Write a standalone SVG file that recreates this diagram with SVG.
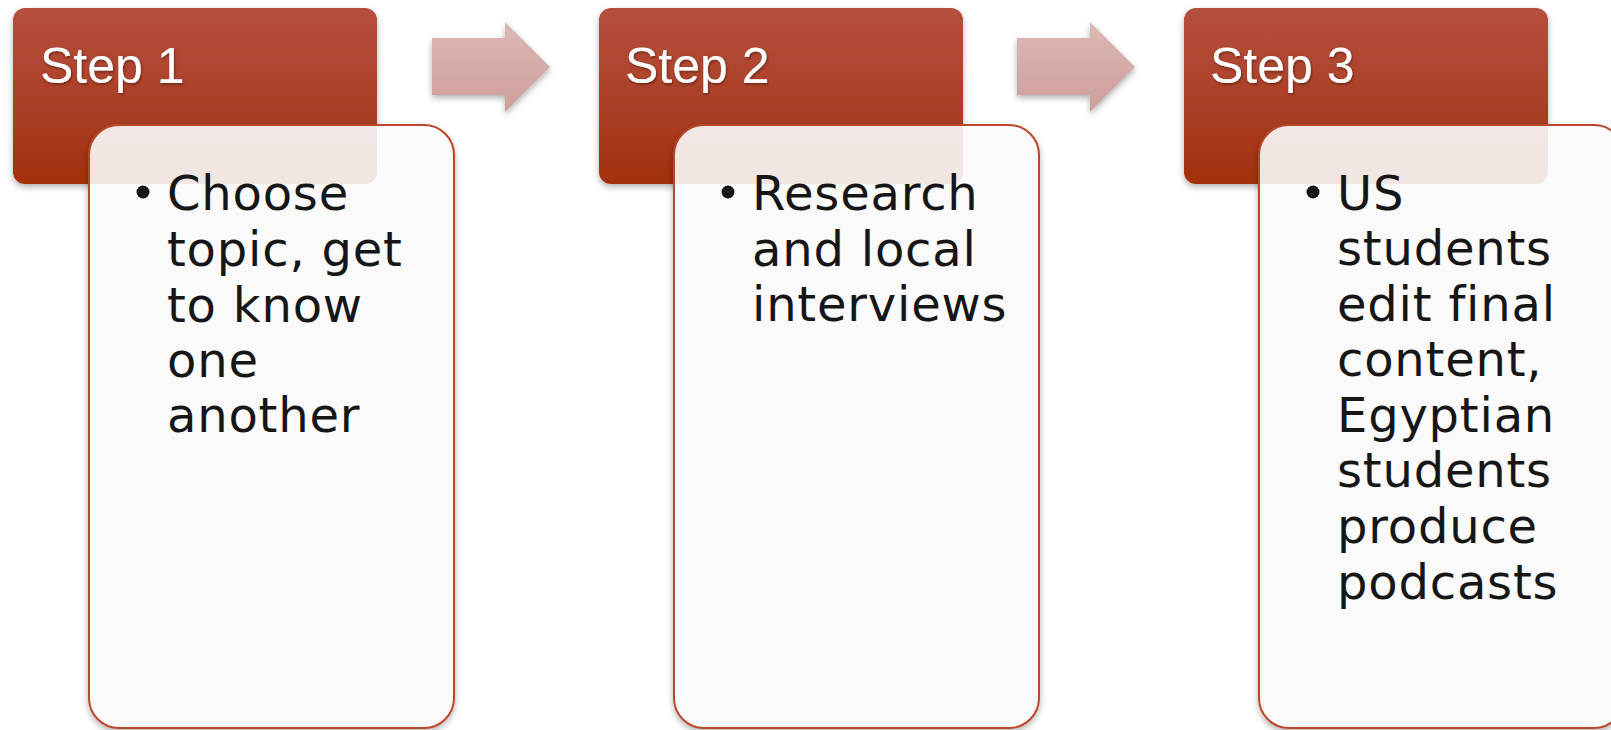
<svg xmlns="http://www.w3.org/2000/svg" width="1611" height="730" viewBox="0 0 1611 730">
  <defs>
    <linearGradient id="hdrFill" x1="0" y1="0" x2="0" y2="1">
      <stop offset="0" stop-color="#b5503e"/>
      <stop offset="0.6" stop-color="#aa3d24"/>
      <stop offset="1" stop-color="#a2300c"/>
    </linearGradient>
    <linearGradient id="arrowFill" x1="0" y1="0" x2="0" y2="1">
      <stop offset="0" stop-color="#dcb8b5"/>
      <stop offset="1" stop-color="#cd9e9a"/>
    </linearGradient>
    <filter id="shadow" x="-10%" y="-10%" width="120%" height="125%">
      <feDropShadow dx="0" dy="3" stdDeviation="3" flood-color="#000" flood-opacity="0.3"/>
    </filter>
    <filter id="txtShadow" x="-10%" y="-20%" width="120%" height="150%">
      <feDropShadow dx="1" dy="1.5" stdDeviation="1" flood-color="#3a0d00" flood-opacity="0.55"/>
    </filter>
    <path id="arrow" d="M0,16 H73 V0 L118,45 L73,90 V73 H0 Z"/>
    <!-- body outlines, reused to tint the part of each header seen through the card -->
    <clipPath id="clip1"><rect x="89" y="125" width="365" height="603" rx="30"/></clipPath>
    <clipPath id="clip2"><rect x="674" y="125" width="365" height="603" rx="30"/></clipPath>
    <clipPath id="clip3"><rect x="1259" y="125" width="365" height="603" rx="30"/></clipPath>
  </defs>
  <style>
    .hdr { fill: url(#hdrFill); filter: url(#shadow); }
    .hdr-tint { fill: url(#hdrFill); opacity: 0.1; }
    .hdr-text { font-family: "Liberation Sans", Arial, sans-serif; font-size: 50px; fill: #ffffff; filter: url(#txtShadow); }
    .body { fill: #fafafa; stroke: #b9472b; stroke-width: 2; filter: url(#shadow); }
    .body-text { font-family: "DejaVu Sans", sans-serif; font-size: 48px; fill: #161616; letter-spacing: 0.8px; }
    .bullet { fill: #161616; }
    .arrow { fill: url(#arrowFill); filter: url(#shadow); }
  </style>

  <rect width="1611" height="730" fill="#ffffff"/>

  <!-- connectors between the steps -->
  <g id="connectors">
    <use href="#arrow" class="arrow" x="432" y="22"/>
    <use href="#arrow" class="arrow" x="1017" y="22"/>
  </g>

  <!-- step 1 -->
  <g id="step1-header">
    <rect class="hdr" x="13" y="8" width="364" height="176" rx="12"/>
    <text class="hdr-text" x="40" y="83">Step 1</text>
  </g>
  <g id="step1-body">
    <rect class="body" x="89" y="125" width="365" height="603" rx="30"/>
    <rect class="hdr-tint" x="13" y="8" width="364" height="176" rx="12" clip-path="url(#clip1)"/>
    <circle class="bullet" cx="143" cy="192" r="6.5"/>
    <text class="body-text">
      <tspan x="167" y="210">Choose</tspan>
      <tspan x="167" y="266">topic, get</tspan>
      <tspan x="167" y="322">to know</tspan>
      <tspan x="167" y="377">one</tspan>
      <tspan x="167" y="432">another</tspan>
    </text>
  </g>

  <!-- step 2 -->
  <g id="step2-header">
    <rect class="hdr" x="599" y="8" width="364" height="176" rx="12"/>
    <text class="hdr-text" x="625" y="83">Step 2</text>
  </g>
  <g id="step2-body">
    <rect class="body" x="674" y="125" width="365" height="603" rx="30"/>
    <rect class="hdr-tint" x="599" y="8" width="364" height="176" rx="12" clip-path="url(#clip2)"/>
    <circle class="bullet" cx="728" cy="192" r="6.5"/>
    <text class="body-text">
      <tspan x="752" y="210">Research</tspan>
      <tspan x="752" y="266">and local</tspan>
      <tspan x="752" y="321">interviews</tspan>
    </text>
  </g>

  <!-- step 3 -->
  <g id="step3-header">
    <rect class="hdr" x="1184" y="8" width="364" height="176" rx="12"/>
    <text class="hdr-text" x="1210" y="83">Step 3</text>
  </g>
  <g id="step3-body">
    <rect class="body" x="1259" y="125" width="365" height="603" rx="30"/>
    <rect class="hdr-tint" x="1184" y="8" width="364" height="176" rx="12" clip-path="url(#clip3)"/>
    <circle class="bullet" cx="1313" cy="192" r="6.5"/>
    <text class="body-text">
      <tspan x="1337" y="210">US</tspan>
      <tspan x="1337" y="265">students</tspan>
      <tspan x="1337" y="321">edit final</tspan>
      <tspan x="1337" y="376">content,</tspan>
      <tspan x="1337" y="432">Egyptian</tspan>
      <tspan x="1337" y="487">students</tspan>
      <tspan x="1337" y="543">produce</tspan>
      <tspan x="1337" y="599">podcasts</tspan>
    </text>
  </g>
</svg>
